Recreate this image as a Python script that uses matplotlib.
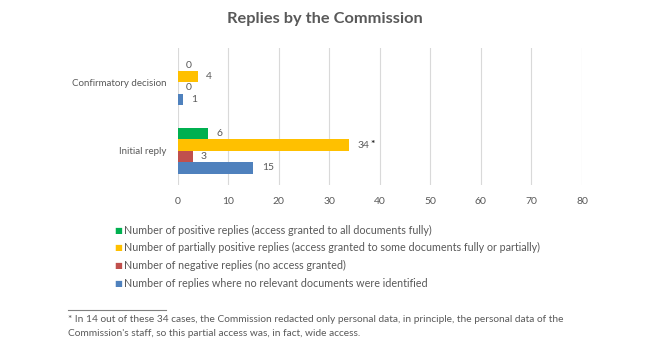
import numpy as np
import matplotlib
matplotlib.use("Agg")
import matplotlib.pyplot as plt

plt.rcParams['font.family'] = ['Lato', 'DejaVu Sans']

categories = ["Initial reply", "Confirmatory decision"]
series_names = [
    "Number of positive replies (access granted to all documents fully)",
    "Number of partially positive replies (access granted to some documents fully or partially)",
    "Number of negative replies (no access granted)",
    "Number of replies where no relevant documents were identified",
]
positive = [6, 0]
partial = [34, 4]
negative = [3, 0]
no_docs = [15, 1]
colors = ["#00B050", "#FFC000", "#C0504D", "#4F81BD"]
xticks = [0, 10, 20, 30, 40, 50, 60, 70, 80]

title = "Replies by the Commission"
footnote = ("* In 14 out of these 34 cases, the Commission redacted only personal data, in principle, the personal data of the\n"
            "Commission's staff, so this partial access was, in fact, wide access.")

txt = "#595959"
W, H = 665, 358
fig = plt.figure(figsize=(W / 100, H / 100), dpi=100)
ax = fig.add_axes([177.5 / W, 1 - 185 / H, (582 - 177.5) / W, (185 - 48) / H])

y = np.arange(len(categories))
h = 1 / 6
offsets = [1.5 * h, 0.5 * h, -0.5 * h, -1.5 * h]
all_series = [positive, partial, negative, no_docs]
for vals, off, c in zip(all_series, offsets, colors):
    ax.barh(y + off, vals, height=h, color=c)
    for yy, v in zip(y + off, vals):
        ax.annotate(str(v), (v, yy), xytext=(6, 0), textcoords="offset points",
                    ha="left", va="center", fontsize=7.5, color=txt)

# asterisk on the 34 label
ax.annotate("*", (partial[0], y[0] + offsets[1]), xytext=(15.5, 0.5), textcoords="offset points",
            ha="left", va="center", fontsize=7.5, color="#222222", fontweight="bold")

ax.set_xlim(0, 80)
ax.set_ylim(-0.5, 1.5)
ax.set_xticks(xticks)
ax.set_yticks(y)
ax.set_yticklabels(categories)
ax.tick_params(length=0, labelsize=7.5, colors=txt)
ax.tick_params(axis="y", pad=8, labelsize=7.0)
ax.tick_params(axis="x", pad=9)
ax.grid(axis="x", color="#D9D9D9", linewidth=0.8)
ax.set_axisbelow(True)
for s in ax.spines.values():
    s.set_visible(False)

fig.text(325 / W, 1 - 19 / H, title, ha="center", va="center", fontsize=11.8,
         fontweight="bold", color=txt)

# legend drawn as text rows with square markers
for i, (name, c) in enumerate(zip(series_names, colors)):
    yy = 1 - (230 + i * 17.7) / H
    fig.text(114 / W, yy, "\u25A0", ha="left", va="center", fontsize=6, color=c,
             family="DejaVu Sans")
    fig.text(124 / W, yy, name, ha="left", va="center", fontsize=7.75, color=txt)

fig.add_artist(plt.Line2D([68 / W, 166 / W], [1 - 310 / H, 1 - 310 / H], color="#7F7F7F",
                          linewidth=0.8))
fig.text(68 / W, 1 - 326.5 / H, footnote, ha="left", va="center", fontsize=7.25,
         color=txt, linespacing=1.65)

fig.savefig("out.png", dpi=100)
